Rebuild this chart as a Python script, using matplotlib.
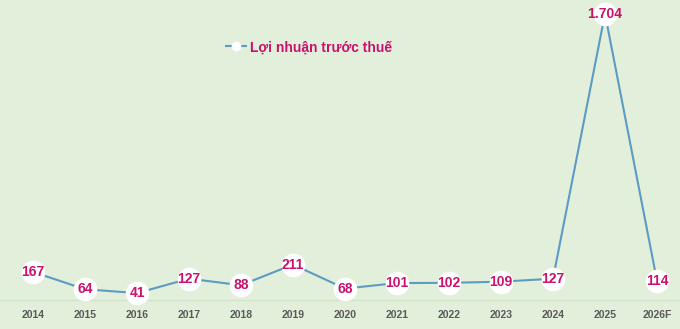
import matplotlib
matplotlib.use("Agg")
import matplotlib.pyplot as plt
from matplotlib.lines import Line2D

years = ["2014", "2015", "2016", "2017", "2018", "2019", "2020", "2021",
         "2022", "2023", "2024", "2025", "2026F"]
profit = [167, 64, 41, 127, 88, 211, 68, 101, 102, 109, 127, 1704, 114]
labels = ["167", "64", "41", "127", "88", "211", "68", "101", "102", "109",
          "127", "1.704", "114"]

bg = "#e2efda"
line_c = "#5b9bc4"
lab_c = "#c8126e"

fig = plt.figure(figsize=(6.8, 3.29), dpi=100)
fig.patch.set_facecolor(bg)
ax = fig.add_axes([0, 0, 1, 1])
ax.set_facecolor(bg)
x = list(range(len(years)))
ax.plot(x, profit, color=line_c, lw=1.5, marker="o", markersize=16,
        markerfacecolor="white", markeredgecolor="white", zorder=3)
for xi, v, t in zip(x, profit, labels):
    ax.text(xi, v, t, ha="center", va="center", color=lab_c,
            fontsize=10, fontweight="bold", family="Liberation Sans", zorder=4)
ax.axhline(0, color="#d3e4ca", lw=1, zorder=1)
for xi, y in zip(x, years):
    ax.text(xi, -90, y, ha="center", va="center", color="#595959",
            fontsize=7.5, fontweight="bold", family="Liberation Sans")
ax.set_xlim(-33 / 52, 647 / 52)
ax.set_ylim(-29 / 0.168, 300 / 0.168)
ax.axis("off")

h = Line2D([], [], color=line_c, lw=1.5, ls=(0, (4, 3)), marker="o",
           markersize=6, markerfacecolor="white", markeredgecolor="white")
leg = ax.legend([h], ["Lợi nhuận trước thuế"], loc="upper left",
                bbox_to_anchor=(0.316, 0.907), frameon=False, handlelength=1.6,
                handletextpad=0.2, borderpad=0.2,
                prop={"weight": "bold", "size": 10, "family": "Liberation Sans"})
for t in leg.get_texts():
    t.set_color(lab_c)

fig.savefig("out.png", dpi=100, facecolor=bg)
